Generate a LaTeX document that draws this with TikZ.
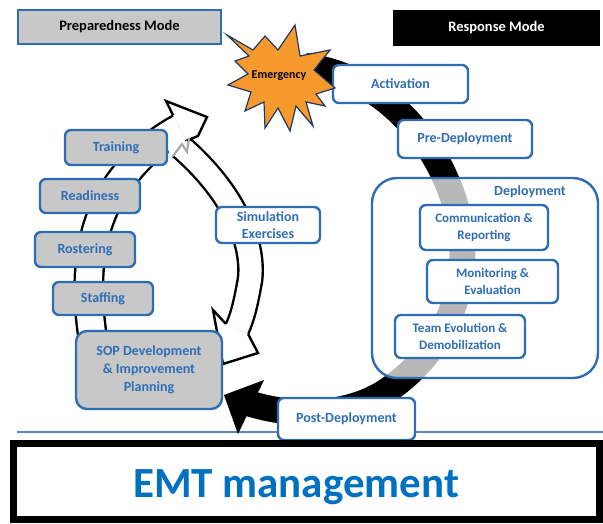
\documentclass[tikz,border=0pt]{standalone}
\usepackage{fontspec}
\setmainfont{Carlito}
\definecolor{bblue}{HTML}{2E6DB4}
\definecolor{tblue}{HTML}{2F6EB5}
\definecolor{emtblue}{HTML}{0070C0}
\definecolor{boxgray}{HTML}{C8C8C8}
\definecolor{starorange}{HTML}{F79A2E}
\definecolor{stardark}{HTML}{1F3864}
\definecolor{rule}{HTML}{5B87C5}
\newcommand\fsz[2]{\fontsize{#1}{#2}\selectfont}
\begin{document}
\begin{tikzpicture}[x=1pt,y=-1pt,
  lbl/.style={font=\bfseries\fsz{14}{17.5}, text=tblue, align=center, inner sep=0pt},
  rbox/.style={lbl, draw=bblue, line width=2.4pt, rounded corners=6pt},
  gbox/.style={rbox, fill=boxgray},
  wbox/.style={rbox, fill=white},
  smalltext/.style={font=\bfseries\fsz{13}{17}},
  band/.style={line width=2.4pt, double=white, line cap=butt},
  hollowhead/.style={fill=white, draw=black, line width=2.4pt, line join=miter},
]
\useasboundingbox (0,0) rectangle (603,523);

% blue rule above the title bar
\coordinate (ruleL) at (17,432);
\coordinate (ruleR) at (603,432);
\draw[rule, line width=2pt] (ruleL) -- (ruleR);

% response cycle: black band from the emergency round to SOP planning
\coordinate (bs) at (305,66);
\coordinate (be) at (248,403);
\draw[line width=26pt] (bs) .. controls (380,75) and (440,140) .. (458,215)
  .. controls (475,290) and (440,355) .. (388,390)
  .. controls (350,416) and (295,418) .. (be);
\fill (264,380) -- (224,395) -- (238,434) -- cycle;

% deployment container (translucent, greys the band beneath)
\node[draw=bblue, line width=2.4pt, rounded corners=25pt, fill=white, fill opacity=0.72,
      minimum width=226pt, minimum height=200pt, inner sep=0pt] (deploy) at (485,278) {};
\node[lbl] (deploylbl) at (530,192) {Deployment};

\node[wbox, minimum width=135pt, minimum height=38pt] (act) at (400.5,84) {Activation};
\node[wbox, minimum width=134pt, minimum height=38pt] (pre) at (465,139) {Pre-Deployment};
\node[wbox, smalltext, minimum width=128pt, minimum height=45pt] (comm) at (484,227.5) {Communication \&\\Reporting};
\node[wbox, smalltext, minimum width=131pt, minimum height=43pt] (monit) at (492.5,281.5) {Monitoring \&\\Evaluation};
\node[wbox, smalltext, minimum width=130pt, minimum height=43pt] (team) at (460,336.5) {Team Evolution \&\\Demobilization};
\node[wbox, minimum width=137pt, minimum height=42pt] (post) at (346.5,419) {Post-Deployment};

% emergency burst
\filldraw[fill=starorange, draw=stardark, line width=1.2pt, line join=miter]
  (227,35) -- (253,50) -- (265,36) -- (278,50) -- (295,25) -- (300,56)
  -- (330,50) -- (314,70) -- (335,88) -- (316,94) -- (325,106) -- (306,102)
  -- (313,126) -- (296,106) -- (290,131) -- (278,108) -- (265,128) -- (264,102)
  -- (245,111) -- (251,92) -- (228,85) -- (248,74) -- (235,61) -- (249,56) -- cycle;
\node[font=\bfseries\fsz{12}{14}, inner sep=0pt] (emerg) at (279,76) {Emergency};

% preparedness cycle: two hollow curved arrows
\draw[band, double distance=26pt] (95,352) .. controls (84,290) and (84,225) .. (125,175)
  .. controls (140,155) and (158,140) .. (180,128);
\draw[band, double distance=22pt] (181,147) .. controls (225,185) and (255,235) .. (250,280)
  .. controls (246,302) and (243,316) .. (237,329);
\filldraw[hollowhead] (225.9,323.9) -- (213,310) -- (223,364) -- (258,353) -- (248.1,334.1);
\fill[white] (168.5,157) -- (168.5,146) -- (184,139.5) -- (187,143) -- (174,156) -- cycle;
\filldraw[hollowhead] (173.2,115.5) -- (166,101) -- (207,117) -- (198,136) -- (186.8,140.5);
\draw[gray!70, line width=2pt, line join=miter] (173,156.2) -- (182,144) -- (187,152) -- (189,137.8);

% preparedness steps
\node[gbox, minimum width=102pt, minimum height=35pt] (train) at (116,147.5) {Training};
\node[gbox, minimum width=100pt, minimum height=34pt] (ready) at (90,196) {Readiness};
\node[gbox, minimum width=100pt, minimum height=35pt] (roster) at (85,249.5) {Rostering};
\node[gbox, minimum width=100pt, minimum height=33pt] (staff) at (103,298.5) {Staffing};
\node[gbox, rounded corners=11pt, minimum width=146pt, minimum height=78pt, font=\bfseries\fsz{14}{18}] (sop) at (149,370) {SOP Development\\\& Improvement\\Planning};
\node[wbox, minimum width=104pt, minimum height=36pt, font=\bfseries\fsz{14}{17.5}] (sim) at (268,225) {Simulation\\Exercises};

% mode headers
\node[draw=bblue, line width=2pt, fill=boxgray, minimum width=203pt, minimum height=34pt,
      font=\bfseries\fsz{14.5}{17}, inner sep=0pt] (prep) at (119.5,27) {Preparedness Mode};
\node[fill=black, text=white, minimum width=207pt, minimum height=36pt,
      font=\bfseries\fsz{14.5}{17}, inner sep=0pt] (resp) at (496.5,28) {Response Mode};

% title bar
\node[draw=black, line width=7pt, fill=white, minimum width=586pt, minimum height=76pt, inner sep=0pt] (emt) at (306.5,481.5) {};
\node[font=\bfseries\fsz{43}{50}, text=emtblue, anchor=base, inner sep=0pt] (emtlbl) at (296,497) {EMT management};
\end{tikzpicture}
\end{document}
